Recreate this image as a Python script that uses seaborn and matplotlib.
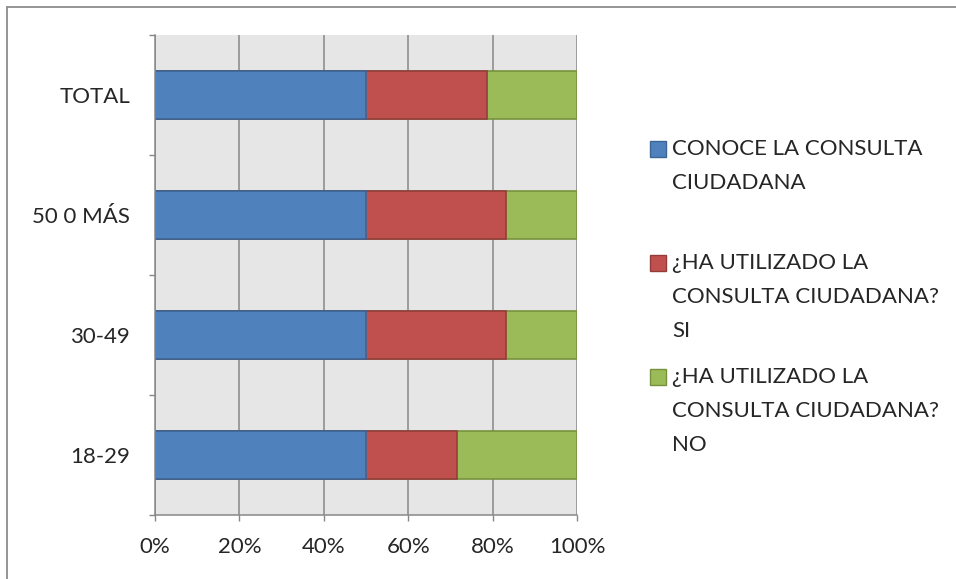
import matplotlib

matplotlib.use("Agg")
import matplotlib.pyplot as plt  # noqa: E402
from matplotlib.lines import Line2D  # noqa: E402
from matplotlib.patches import Rectangle  # noqa: E402
import pandas as pd  # noqa: E402
import seaborn as sns  # noqa: E402

# values, in % of each bar
groups = ["TOTAL", "50 0 MÁS", "30-49", "18-29"]
conoce = [50.0, 50.0, 50.0, 50.0]
utilizado_si = [28.7, 33.2, 33.2, 21.6]
utilizado_no = [21.3, 16.8, 16.8, 28.4]

series_labels = [
    "CONOCE LA CONSULTA\nCIUDADANA",
    "¿HA UTILIZADO LA\nCONSULTA CIUDADANA?\nSI",
    "¿HA UTILIZADO LA\nCONSULTA CIUDADANA?\nNO",
]
x_ticks = [0, 20, 40, 60, 80, 100]
x_tick_labels = ["0%", "20%", "40%", "60%", "80%", "100%"]

FILLS = ["#4f81bd", "#c0504d", "#9bbb59"]
EDGES = ["#3b6594", "#933d3a", "#76923c"]
GRID = "#878787"

sns.set_theme(style="white")
plt.rcParams["font.family"] = ["Lato", "DejaVu Sans"]
FS = 16

W, H = 956, 579
fig = plt.figure(figsize=(W / 100, H / 100), dpi=100)
fig.patch.set_facecolor("white")


def fx(px):
    return px / W


def fy(py):
    return 1 - py / H


ax = fig.add_axes([fx(155), fy(515), fx(577) - fx(155), fy(35) - fy(515)])
ax.set_facecolor("#e6e6e6")

df = pd.DataFrame({"group": groups, "conoce": conoce, "si": utilizado_si, "no": utilizado_no})
df["end_blue"] = df["conoce"]
df["end_red"] = df["conoce"] + df["si"]
df["end_green"] = df["end_red"] + df["no"]

# stacked bars: draw the longest first, shorter ones on top
for col, fill, edge in zip(["end_green", "end_red", "end_blue"], FILLS[::-1], EDGES[::-1]):
    sns.barplot(
        data=df,
        x=col,
        y="group",
        order=groups,
        orient="h",
        color=fill,
        edgecolor=edge,
        linewidth=1.2,
        width=0.4,
        saturation=1,
        ax=ax,
    )

ax.set_xlim(0, 100)
ax.set_ylim(3.5, -0.5)
ax.set_xlabel("")
ax.set_ylabel("")
ax.set_xticks(x_ticks)
ax.set_xticklabels(x_tick_labels, fontsize=FS)
ax.set_yticks(range(len(groups)))
ax.set_yticklabels(groups, fontsize=FS)
ax.set_yticks([i - 0.5 for i in range(len(groups) + 1)], minor=True)
ax.tick_params(axis="y", which="major", length=0, pad=18)
ax.tick_params(axis="y", which="minor", length=4.5, width=1, color=GRID, direction="out", left=True)
ax.tick_params(axis="x", which="major", length=4.5, width=1, color=GRID, direction="out", bottom=True, pad=11)
ax.grid(axis="x", color=GRID, linewidth=1.1)
ax.grid(axis="y", visible=False)
ax.set_axisbelow(True)
for side in ["top", "right"]:
    ax.spines[side].set_visible(False)
for side in ["left", "bottom"]:
    ax.spines[side].set_color(GRID)
    ax.spines[side].set_linewidth(1.1)

# legend, drawn by hand so the swatch sits on the first line of each label
entry_tops = [149, 263, 377]
line_step = 34
for label, fill, edge, y0 in zip(series_labels, FILLS, EDGES, entry_tops):
    fig.add_artist(
        Rectangle(
            (fx(650), fy(y0 + 8)),
            fx(16),
            16 / H,
            transform=fig.transFigure,
            facecolor=fill,
            edgecolor=edge,
            linewidth=1,
        )
    )
    for k, line in enumerate(label.split("\n")):
        fig.text(fx(672), fy(y0 + k * line_step), line, fontsize=FS, va="center", ha="left")

# chart area border (only top and left edges fall inside the picture)
fig.add_artist(Line2D([fx(7), fx(7)], [0, fy(7)], transform=fig.transFigure, color="#8c8c8c", linewidth=1.3))
fig.add_artist(Line2D([fx(7), 1], [fy(7), fy(7)], transform=fig.transFigure, color="#8c8c8c", linewidth=1.3))

fig.savefig("out.png", dpi=100)
plt.close(fig)
